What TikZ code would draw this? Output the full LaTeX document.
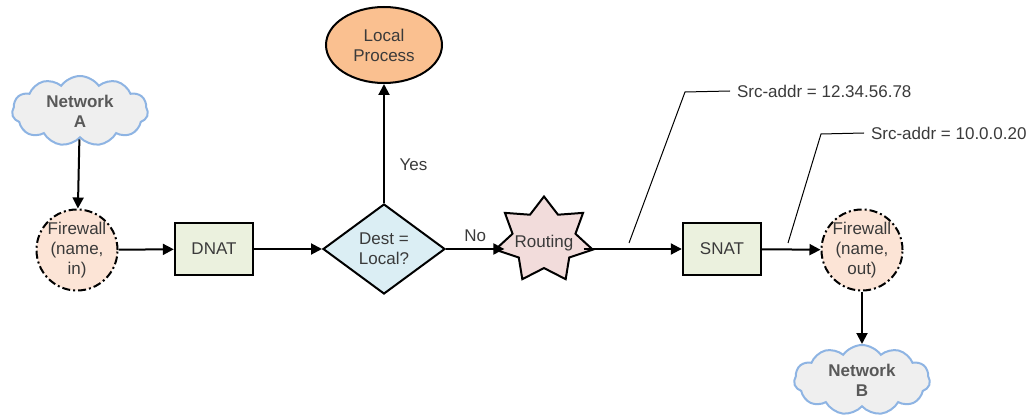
\documentclass[tikz,border=0pt]{standalone}
\usepackage{fontspec}
\setmainfont{Liberation Sans}
\usetikzlibrary{arrows.meta,shapes.geometric,shapes.symbols}

\definecolor{txtgray}{HTML}{3A3A3A}
\definecolor{cloudfill}{HTML}{EFEFEF}
\definecolor{cloudline}{HTML}{8EB4E3}
\definecolor{fwfill}{HTML}{FCE4D6}
\definecolor{natfill}{HTML}{EBF1DE}
\definecolor{decfill}{HTML}{DBEEF4}
\definecolor{procfill}{HTML}{FAC090}
\definecolor{routefill}{HTML}{F2DCDB}

\tikzset{
  base/.style={font=\fontsize{8.5}{10}\selectfont, text=txtgray, align=center},
  net/.style={base, cloud, cloud puffs=11, cloud puff arc=110, aspect=2.1,
    draw=cloudline, fill=cloudfill, line width=1pt, inner sep=0pt,
    minimum width=68pt, minimum height=35pt, font=\fontsize{8.5}{10}\selectfont\bfseries, text=black!65},
  fw/.style={base, circle, draw, fill=fwfill, line width=1pt, inner sep=0pt,
    minimum size=40pt, dash pattern=on 4pt off 1.5pt on 1pt off 1.5pt},
  nat/.style={base, rectangle, draw, fill=natfill, line width=1.2pt,
    minimum width=39pt, minimum height=26pt},
  decide/.style={base, diamond, draw, fill=decfill, line width=1pt, inner sep=0pt,
    minimum width=61pt, minimum height=45pt},
  proc/.style={base, ellipse, draw, fill=procfill, line width=1pt, inner sep=0pt,
    minimum width=58pt, minimum height=38pt},
  route/.style={star, star points=7, star point ratio=1.55, draw, fill=routefill,
    line width=1pt, inner sep=0pt, minimum size=50pt, yscale=0.87, transform shape},
  flow/.style={line width=1pt, -{Triangle[length=5.5pt,width=5.5pt]}},
  note/.style={line width=0.5pt}
}

\begin{document}
\begin{tikzpicture}[x=0.5pt,y=-0.5pt]
\useasboundingbox (0,0) rectangle (1029,417);

\node [net] (netA) at (80,111) {Network\\A};
\node [fw] (fwin) at (77,250) {Firewall\\(name,\\in)};
\node [nat] (dnat) at (214,249) {DNAT};
\node [decide] (dest) at (384,249) {Dest =\\Local?};
\node [proc] (local) at (384,45) {Local\\Process};
\node [route] (routing) at (544,240) {};
\node [base] (routetxt) at (544,243) {Routing};
\node [nat] (snat) at (722,249) {SNAT};
\node [fw] (fwout) at (862,250) {Firewall\\(name,\\out)};
\node [net] (netB) at (862,380) {Network\\B};

\draw [flow] (netA) -- (fwin);
\draw [flow] (fwin) -- (dnat);
\draw [flow] (dnat) -- (dest);
\draw [flow] (dest) -- node [pos=0.32, right, base, xshift=4pt] {Yes} (local);
\draw [flow] (dest) -- node [above, base] {No} (routing.west |- dest);
\draw [flow] (routing.east |- snat) -- (snat);
\draw [flow] (snat) -- (fwout);
\draw [flow] (fwout) -- (netB);

\node [base, anchor=west] (addr1) at (730,91) {Src-addr = 12.34.56.78};
\node [base, anchor=west] (addr2) at (864,133) {Src-addr = 10.0.0.20};
\coordinate (tap1) at (629,243);
\coordinate (knee1) at (685,92);
\coordinate (tap2) at (788,243);
\coordinate (knee2) at (821,134);
\draw [note] (tap1) -- (knee1) -- (addr1.west);
\draw [note] (tap2) -- (knee2) -- (addr2.west);
\end{tikzpicture}
\end{document}
